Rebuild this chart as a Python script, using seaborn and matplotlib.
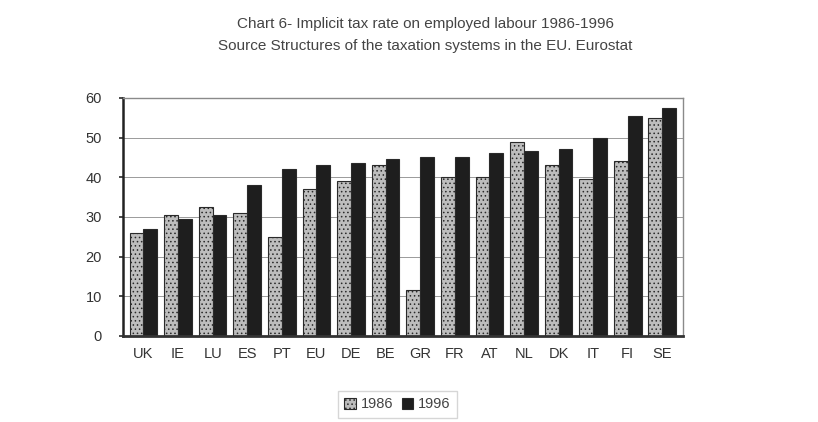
import matplotlib
matplotlib.use("Agg")
import matplotlib.pyplot as plt
import seaborn as sns
import pandas as pd

countries = ["UK", "IE", "LU", "ES", "PT", "EU", "DE", "BE",
             "GR", "FR", "AT", "NL", "DK", "IT", "FI", "SE"]
rate_1986 = [26, 30.5, 32.5, 31, 25, 37, 39, 43, 11.5, 40, 40, 49, 43, 39.5, 44, 55]
rate_1996 = [27, 29.5, 30.5, 38, 42, 43, 43.5, 44.5, 45, 45, 46, 46.5, 47, 50, 55.5, 57.5]
years = ["1986", "1996"]

df = pd.DataFrame({
    "country": countries * 2,
    "year": [years[0]] * len(countries) + [years[1]] * len(countries),
    "rate": rate_1986 + rate_1996,
})

sns.set_theme(style="white")
plt.rcParams["font.family"] = ["Liberation Sans", "DejaVu Sans"]
plt.rcParams["hatch.color"] = "#555555"
plt.rcParams["hatch.linewidth"] = 0.6

fig = plt.figure(figsize=(8.18, 4.22), dpi=100)
ax = fig.add_axes([0.150, 0.204, 0.685, 0.564])

sns.barplot(data=df, x="country", y="rate", hue="year",
            palette={"1986": "#bdbdbd", "1996": "#1e1e1e"},
            width=0.8, gap=0.0, edgecolor="#2a2a2a", linewidth=0.8,
            ax=ax, legend=True)

for bar in ax.containers[0]:
    bar.set_hatch("....")

ax.set_ylim(0, 60)
ax.set_yticks(range(0, 61, 10))
ax.set_xlim(-0.6, len(countries) - 0.4)
ax.set_xlabel("")
ax.set_ylabel("")
ax.yaxis.grid(True, color="#9a9a9a", linewidth=0.7)
ax.set_axisbelow(True)

for side in ["top", "right"]:
    ax.spines[side].set_color("#8a8a8a")
    ax.spines[side].set_linewidth(1.0)
ax.spines["left"].set_color("#222222")
ax.spines["left"].set_linewidth(1.8)
ax.spines["bottom"].set_color("#333333")
ax.spines["bottom"].set_linewidth(2.0)

ax.tick_params(axis="x", labelsize=10.5, colors="#333333", length=0, pad=8)
ax.tick_params(axis="y", labelsize=10.5, colors="#333333", length=3, left=True, pad=12)

leg = ax.legend(loc="upper center", bbox_to_anchor=(0.49, -0.2), ncol=2,
                frameon=True, fontsize=10.5, handlelength=0.8, handleheight=0.8,
                handletextpad=0.3, columnspacing=0.6, borderpad=0.45,
                fancybox=False, edgecolor="#cccccc")
for t in leg.get_texts():
    t.set_color("#444444")
leg.legend_handles[0].set_hatch("....")

fig.text(0.52, 0.942, "Chart 6- Implicit tax rate on employed labour 1986-1996",
         ha="center", va="center", fontsize=11, color="#444444")
fig.text(0.52, 0.890, "Source Structures of the taxation systems in the EU. Eurostat",
         ha="center", va="center", fontsize=11, color="#444444")

fig.savefig("out.png", dpi=100)
